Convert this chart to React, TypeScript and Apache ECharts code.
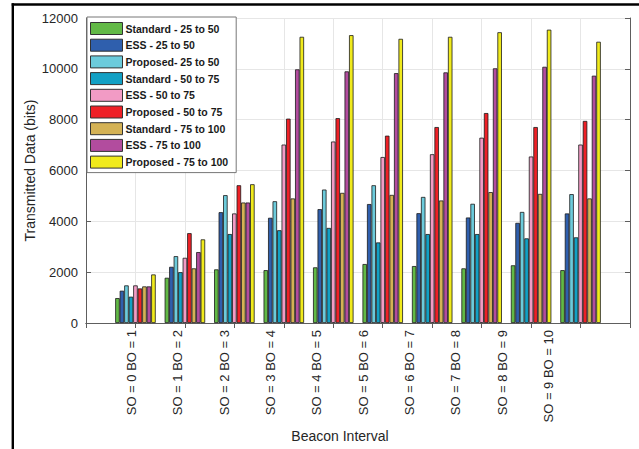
import React, { useEffect, useRef } from "react";
import * as echarts from "echarts";

const categories = [
  "SO = 0 BO = 1",
  "SO = 1 BO = 2",
  "SO = 2 BO = 3",
  "SO = 3 BO = 4",
  "SO = 4 BO = 5",
  "SO = 5 BO = 6",
  "SO = 6 BO = 7",
  "SO = 7 BO = 8",
  "SO = 8 BO = 9",
  "SO = 9 BO = 10",
];

const seriesNames = [
  "Standard - 25 to 50",
  "ESS - 25 to 50",
  "Proposed- 25 to 50",
  "Standard - 50 to 75",
  "ESS - 50 to 75",
  "Proposed - 50 to 75",
  "Standard - 75 to 100",
  "ESS - 75 to 100",
  "Proposed - 75 to 100",
];

const standard25 = [980, 1780, 2110, 2080, 2190, 2320, 2240, 2150, 2270, 2080];
const ess25 = [1270, 2210, 4360, 4140, 4480, 4680, 4320, 4150, 3940, 4310];
const proposed25 = [1480, 2630, 5030, 4790, 5250, 5420, 4960, 4690, 4370, 5070];
const standard50 = [1035, 2000, 3500, 3650, 3740, 3170, 3500, 3500, 3330, 3370];
const ess50 = [1480, 2565, 4310, 7020, 7140, 6530, 6640, 7290, 6550, 7020];
const proposed50 = [1360, 3535, 5420, 8040, 8060, 7370, 7710, 8260, 7710, 7950];
const standard75 = [1440, 2150, 4740, 4900, 5120, 5040, 4820, 5150, 5080, 4900];
const ess75 = [1440, 2790, 4740, 9980, 9900, 9830, 9860, 10020, 10080, 9730];
const proposed75 = [1910, 3290, 5460, 11260, 11325, 11180, 11260, 11440, 11540, 11065];

const seriesValues = [
  standard25,
  ess25,
  proposed25,
  standard50,
  ess50,
  proposed50,
  standard75,
  ess75,
  proposed75,
];

const colors = [
  "#62b946",
  "#2f5fad",
  "#6ccbdb",
  "#12a0c4",
  "#f29bc5",
  "#ee2026",
  "#d4b255",
  "#b24c9e",
  "#f0ea1c",
];

const yTicks = { min: 0, max: 12000, interval: 2000 };

const FONT = "Liberation Sans, Arial, Helvetica, sans-serif";

export default function App() {
  const ref = useRef<HTMLDivElement>(null);

  useEffect(() => {
    if (!ref.current) return;
    const chart = echarts.init(ref.current, undefined, { renderer: "svg" });
    const paddedCats = ["", ...categories, ""];
    const frameColor = "#5e5e5e";

    const series = seriesNames.map((name, i) => ({
      name,
      type: "bar",
      xAxisIndex: 0,
      yAxisIndex: 0,
      barWidth: 4.5,
      barGap: "0%",
      data: [null, ...seriesValues[i], null],
      itemStyle: { color: colors[i], borderColor: "#1a1a1a", borderWidth: 0.8 },
    }));

    chart.setOption({
      animation: false,
      backgroundColor: "#ffffff",
      textStyle: { fontFamily: FONT },
      grid: [
        { left: 86, right: 9, top: 18, bottom: 126, show: false },
        { left: 131.7, right: 90.7, top: 18, bottom: 126, show: false },
      ],
      legend: {
        orient: "vertical",
        left: 87,
        top: 17,
        icon: "rect",
        itemWidth: 32,
        itemHeight: 12,
        itemGap: 3.7,
        padding: [5, 8, 4, 3],
        backgroundColor: "#ffffff",
        borderColor: "#777777",
        borderWidth: 1,
        borderRadius: 0,
        itemStyle: { borderColor: "#333333", borderWidth: 1 },
        textStyle: { fontFamily: FONT, fontSize: 10.5, fontWeight: "bold", color: "#1a1a1a", padding: [0, 0, 0, -2] },
        data: seriesNames,
      },
      xAxis: [
        {
          type: "category",
          gridIndex: 0,
          position: "bottom",
          data: paddedCats,
          boundaryGap: false,
          axisLine: { show: true, lineStyle: { color: frameColor, width: 1 } },
          axisTick: { show: true, inside: true, length: 5, interval: 0, lineStyle: { color: frameColor } },
          axisLabel: { show: false },
          splitLine: { show: true, interval: 0, lineStyle: { color: "#e6e6e6", width: 1 } },
        },
        {
          type: "category",
          gridIndex: 0,
          position: "top",
          data: paddedCats,
          boundaryGap: false,
          axisLine: { show: true, lineStyle: { color: frameColor, width: 1 } },
          axisTick: { show: true, inside: true, length: 5, interval: 0, lineStyle: { color: frameColor } },
          axisLabel: { show: false },
          splitLine: { show: false },
        },
        {
          type: "category",
          gridIndex: 1,
          position: "bottom",
          data: categories,
          boundaryGap: false,
          axisLine: { show: false },
          axisTick: { show: false },
          splitLine: { show: false },
          axisLabel: {
            show: true,
            interval: 0,
            rotate: 90,
            margin: 7,
            fontSize: 13,
            fontFamily: FONT,
            color: "#262626",
          },
          name: "Beacon Interval",
          nameLocation: "middle",
          nameGap: 106,
          nameMoveOverlap: false,
          nameTextStyle: { fontSize: 14, fontFamily: FONT, color: "#262626" },
        },
      ],
      yAxis: [
        {
          type: "value",
          gridIndex: 0,
          position: "left",
          ...yTicks,
          axisLine: { show: true, lineStyle: { color: frameColor, width: 1 } },
          axisTick: { show: true, inside: true, length: 5, lineStyle: { color: frameColor } },
          axisLabel: {
            show: true,
            margin: 8,
            fontSize: 13,
            fontFamily: FONT,
            color: "#262626",
            formatter: (v: number) => String(v),
          },
          splitLine: { show: true, lineStyle: { color: "#e6e6e6", width: 1 } },
          name: "Transmitted Data (bits)",
          nameLocation: "middle",
          nameGap: 49,
          nameMoveOverlap: false,
          nameTextStyle: { fontSize: 14, fontFamily: FONT, color: "#262626" },
        },
        {
          type: "value",
          gridIndex: 0,
          position: "right",
          ...yTicks,
          axisLine: { show: true, lineStyle: { color: frameColor, width: 1 } },
          axisTick: { show: true, inside: true, length: 5, lineStyle: { color: frameColor } },
          axisLabel: { show: false },
          splitLine: { show: false },
        },
        {
          type: "value",
          gridIndex: 1,
          show: false,
          ...yTicks,
        },
      ],
      series,
      graphic: [
        {
          type: "line",
          shape: { x1: 11.7, y1: 4.5, x2: 639, y2: 4.5 },
          style: { stroke: "#000000", lineWidth: 2.5 },
          silent: true,
        },
        {
          type: "line",
          shape: { x1: 12.8, y1: 3.3, x2: 12.8, y2: 449 },
          style: { stroke: "#000000", lineWidth: 2.4 },
          silent: true,
        },
      ],
    });

    return () => {
      chart.dispose();
    };
  }, []);

  return (
    <div
      ref={ref}
      style={{ position: "fixed", left: 0, top: 0, width: 639, height: 449, background: "#ffffff" }}
    />
  );
}
